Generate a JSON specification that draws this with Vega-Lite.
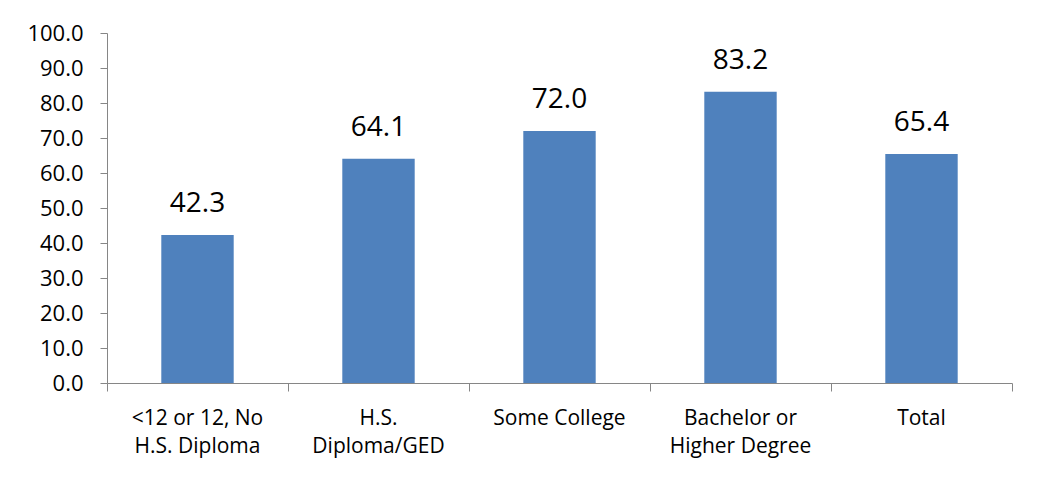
{
  "$schema": "https://vega.github.io/schema/vega-lite/v6.json",
  "autosize": "none",
  "width": 905,
  "height": 350,
  "padding": {"left": 107, "top": 33, "right": 28, "bottom": 98},
  "background": "white",
  "config": {
    "view": {"stroke": null},
    "font": "Open Sans",
    "axis": {"domainColor": "#868686", "tickColor": "#868686", "labelColor": "#000000", "labelFont": "Open Sans", "grid": false}
  },
  "data": {
    "values": [
      {"category": "<12 or 12, No H.S. Diploma", "value": 42.3},
      {"category": "H.S. Diploma/GED", "value": 64.1},
      {"category": "Some College", "value": 72.0},
      {"category": "Bachelor or Higher Degree", "value": 83.2},
      {"category": "Total", "value": 65.4}
    ]
  },
  "encoding": {
    "x": {
      "field": "category",
      "type": "nominal",
      "sort": null,
      "title": null,
      "scale": {"paddingInner": 0, "paddingOuter": 0},
      "axis": {
        "labelAngle": 0,
        "labelFontSize": 21,
        "labelPadding": 16,
        "labelLineHeight": 28,
        "tickSize": 8,
        "bandPosition": 1,
        "tickExtra": true,
        "labelExpr": "{'<12 or 12, No H.S. Diploma': ['<12 or 12, No', 'H.S. Diploma'], 'H.S. Diploma/GED': ['H.S.', 'Diploma/GED'], 'Bachelor or Higher Degree': ['Bachelor or', 'Higher Degree']}[datum.label] || datum.label"
      }
    },
    "y": {
      "field": "value",
      "type": "quantitative",
      "title": null,
      "scale": {"domain": [0, 100], "nice": false},
      "axis": {"values": [0, 10, 20, 30, 40, 50, 60, 70, 80, 90, 100], "format": ".1f", "labelFontSize": 22, "tickSize": 7, "labelPadding": 17}
    }
  },
  "layer": [
    {"mark": {"type": "bar", "color": "#4F81BD", "width": {"band": 0.4}}},
    {
      "mark": {"type": "text", "baseline": "bottom", "dy": -17, "fontSize": 28, "color": "#000000"},
      "encoding": {"text": {"field": "value", "type": "quantitative", "format": ".1f"}}
    }
  ]
}
